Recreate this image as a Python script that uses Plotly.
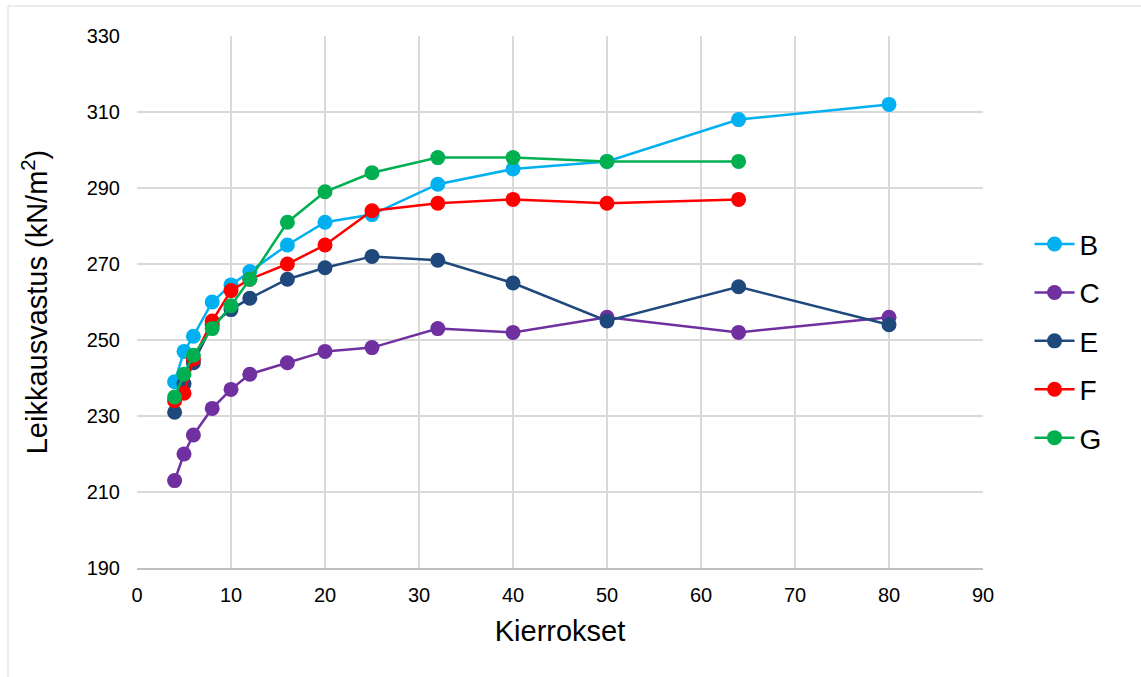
import plotly.graph_objects as go

# Number of cycles (x) for each series
cycles_long = [4, 5, 6, 8, 10, 12, 16, 20, 25, 32, 40, 50, 64, 80]
cycles_short = [4, 5, 6, 8, 10, 12, 16, 20, 25, 32, 40, 50, 64]

# Shear resistance (kN/m2)
B = [239, 247, 251, 260, 264.5, 268, 275, 281, 283, 291, 295, 297, 308, 312]
C = [213, 220, 225, 232, 237, 241, 244, 247, 248, 253, 252, 256, 252, 256]
E = [231, 238.5, 244, 254, 258, 261, 266, 269, 272, 271, 265, 255, 264, 254]
F = [234, 236, 245, 255, 263, 266, 270, 275, 284, 286, 287, 286, 287]
G = [235, 241, 246, 253, 259, 266, 281, 289, 294, 298, 298, 297, 297]

series = [
    ("B", cycles_long, B, "#00b0f0"),
    ("C", cycles_long, C, "#7030a0"),
    ("E", cycles_long, E, "#1f497d"),
    ("F", cycles_short, F, "#ff0000"),
    ("G", cycles_short, G, "#00b050"),
]

fig = go.Figure()
for name, xs, ys, color in series:
    fig.add_trace(go.Scatter(
        x=xs, y=ys, name=name, mode="lines+markers", legendgroup=name,
        line=dict(color=color, width=2.5),
        marker=dict(color=color, size=15),
    ))

font_family = "Liberation Sans, Arial, sans-serif"
grid = "#d9d9d9"

fig.update_layout(
    width=1141, height=677,
    margin=dict(l=137, r=158, t=36, b=109),
    paper_bgcolor="white", plot_bgcolor="white",
    font=dict(family=font_family, color="#000000", size=20),
    showlegend=True,
    legend=dict(
        x=1.055, y=0.427, xanchor="left", yanchor="middle",
        font=dict(size=28), itemwidth=40, tracegroupgap=9,
        bgcolor="rgba(0,0,0,0)",
    ),
    xaxis=dict(
        range=[0, 90], dtick=10, tick0=0,
        showgrid=True, gridcolor=grid, gridwidth=1.5,
        zeroline=False, showline=True, linecolor="#bfbfbf", linewidth=1.5,
        ticks="", ticklabelstandoff=8,
        tickfont=dict(size=20),
        title=dict(text="Kierrokset", font=dict(size=29), standoff=16),
    ),
    yaxis=dict(
        range=[190, 330], dtick=20, tick0=190,
        showgrid=True, gridcolor=grid, gridwidth=1.5,
        zeroline=False, showline=False,
        ticks="", ticklabelstandoff=16,
        tickfont=dict(size=20),
        title=dict(text="Leikkausvastus (kN/m<sup>2</sup>)", font=dict(size=29), standoff=30),
    ),
)

# Chart frame edges (left and top)
fig.add_shape(type="line", xref="paper", yref="paper",
              x0=-129 / 846, x1=1.2, y0=1 + 30 / 532, y1=1 + 30 / 532,
              line=dict(color="#d9d9d9", width=1))
fig.add_shape(type="line", xref="paper", yref="paper",
              x0=-129 / 846, x1=-129 / 846, y0=1 + 30 / 532, y1=-0.3,
              line=dict(color="#d9d9d9", width=1))

fig.write_html("out.html")
